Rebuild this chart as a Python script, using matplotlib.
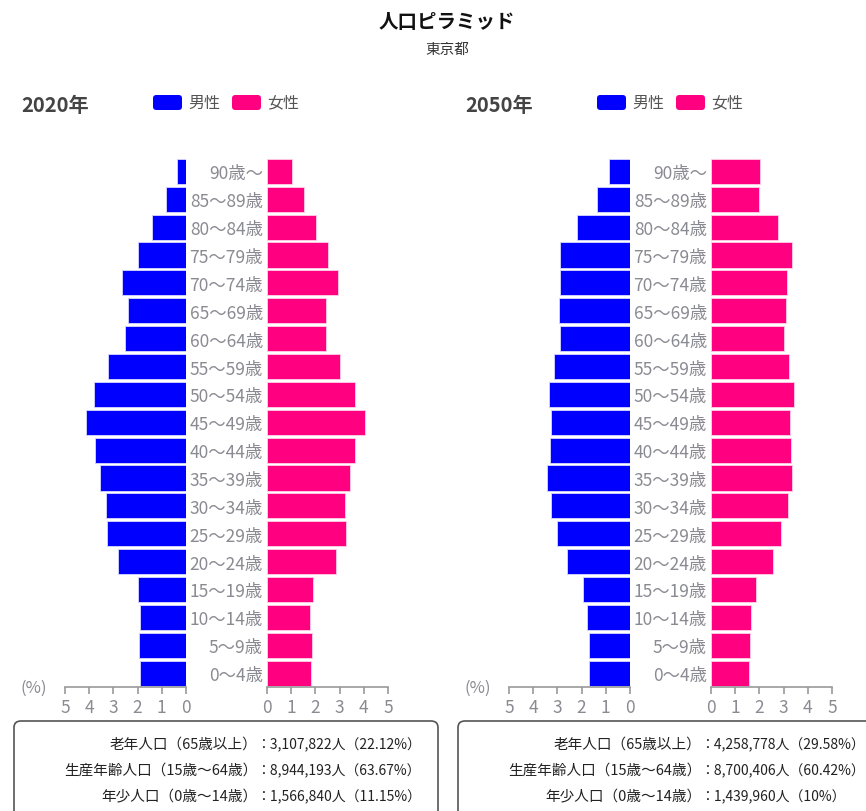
import matplotlib
matplotlib.use("Agg")
import matplotlib.pyplot as plt
from matplotlib.patches import FancyBboxPatch

plt.rcParams["font.family"] = ["Noto Sans CJK JP", "DejaVu Sans"]

W, H = 866, 812

AGES = ["0～4歳", "5～9歳", "10～14歳", "15～19歳", "20～24歳", "25～29歳",
        "30～34歳", "35～39歳", "40～44歳", "45～49歳", "50～54歳", "55～59歳",
        "60～64歳", "65～69歳", "70～74歳", "75～79歳", "80～84歳", "85～89歳",
        "90歳～"]

# percent of total population, youngest first
MALE_2020 = [1.92, 1.96, 1.89, 1.97, 2.83, 3.25, 3.31, 3.56, 3.77, 4.15,
             3.79, 3.21, 2.52, 2.39, 2.65, 1.97, 1.39, 0.83, 0.37]
FEMALE_2020 = [1.80, 1.84, 1.77, 1.91, 2.85, 3.25, 3.23, 3.41, 3.62, 4.07,
               3.62, 3.01, 2.42, 2.43, 2.93, 2.51, 2.04, 1.52, 1.04]
MALE_2050 = [1.68, 1.70, 1.76, 1.93, 2.62, 3.02, 3.28, 3.42, 3.32, 3.27,
             3.34, 3.16, 2.90, 2.94, 2.90, 2.88, 2.20, 1.35, 0.85]
FEMALE_2050 = [1.57, 1.60, 1.67, 1.85, 2.57, 2.91, 3.19, 3.33, 3.29, 3.28,
               3.43, 3.21, 3.00, 3.09, 3.15, 3.36, 2.78, 1.98, 2.01]

YEARS = ["2020年", "2050年"]
SUMMARY_LABELS = ["老年人口（65歳以上）", "生産年齢人口（15歳～64歳）", "年少人口（0歳～14歳）"]
SUMMARY_2020 = ["：3,107,822人（22.12%）", "：8,944,193人（63.67%）", "：1,566,840人（11.15%）"]
SUMMARY_2050 = ["：4,258,778人（29.58%）", "：8,700,406人（60.42%）", "：1,439,960人（10%）"]

BLUE = "#0000ff"
PINK = "#ff0080"
GRAY = "#8a8a92"
AXIS = "#9a9a9a"

fig = plt.figure(figsize=(W / 100, H / 100), dpi=100)


def px_axes(x0, x1, y_top, y_bot):
    return fig.add_axes([x0 / W, 1 - y_bot / H, (x1 - x0) / W, (y_bot - y_top) / H])


def style_axis(ax):
    for side in ("top", "right", "left"):
        ax.spines[side].set_visible(False)
    ax.spines["bottom"].set_color(AXIS)
    ax.spines["bottom"].set_linewidth(1.2)
    ax.set_xlim(0, 5)
    ax.set_xticks(range(6))
    ax.tick_params(axis="x", colors=AXIS, length=5, width=1.2,
                   labelsize=12.5, labelcolor=GRAY, pad=3)
    ax.set_ylim(-0.5, len(AGES) - 0.5)


def draw_pyramid(dx, male, female, year, summary):
    y = list(range(len(AGES)))

    ax_m = px_axes(65 + dx, 186 + dx, 158.5, 688)
    ax_m.barh(y, male, height=0.9, color=BLUE, edgecolor="#d8d8ff", linewidth=0.6)
    style_axis(ax_m)
    ax_m.invert_xaxis()
    ax_m.set_yticks([])

    ax_f = px_axes(267 + dx, 388 + dx, 158.5, 688)
    ax_f.barh(y, female, height=0.9, color=PINK, edgecolor="#ffd0e6", linewidth=0.6)
    style_axis(ax_f)
    ax_f.set_yticks(y, AGES)
    ax_f.tick_params(axis="y", length=0, pad=3, labelsize=12.5, labelcolor=GRAY)

    fig.text((20 + dx) / W, 1 - 688 / H, "(%)", fontsize=12, color=GRAY,
             ha="left", va="center")

    # year heading and legend
    fig.text((21 + dx) / W, 1 - 106 / H, year, fontsize=14.5, fontweight="bold",
             color="#444444", ha="left", va="center")
    for x0, color, label in ((153, BLUE, "男性"), (232, PINK, "女性")):
        fig.patches.append(FancyBboxPatch(
            ((x0 + dx) / W, 1 - 111 / H), 29 / W, 15 / H,
            boxstyle="round,pad=0,rounding_size=0.004",
            transform=fig.transFigure, facecolor=color, edgecolor="none"))
        fig.text((x0 + 35 + dx) / W, 1 - 103 / H, label, fontsize=11.5,
                 color="#555555", ha="left", va="center")

    # summary box
    fig.patches.append(FancyBboxPatch(
        ((14 + dx) / W, 1 - 830 / H), 424 / W, 108 / H,
        boxstyle="round,pad=0,rounding_size=0.008",
        transform=fig.transFigure, facecolor="white", edgecolor="#555555",
        linewidth=1.2))
    for i, (lab, val) in enumerate(zip(SUMMARY_LABELS, summary)):
        yy = 1 - (745 + 26 * i) / H
        fig.text((257 + dx) / W, yy, lab, fontsize=10.5, color="#222222",
                 ha="right", va="center")
        fig.text((256 + dx) / W, yy, val, fontsize=10, color="#222222",
                 ha="left", va="center")


draw_pyramid(0, MALE_2020, FEMALE_2020, YEARS[0], SUMMARY_2020)
draw_pyramid(444, MALE_2050, FEMALE_2050, YEARS[1], SUMMARY_2050)

fig.text(447 / W, 1 - 23 / H, "人口ピラミッド", fontsize=14, fontweight="bold",
         color="#111111", ha="center", va="center")
fig.text(447 / W, 1 - 50 / H, "東京都", fontsize=10.5, color="#333333",
         ha="center", va="center")

fig.savefig("out.png", dpi=100)
